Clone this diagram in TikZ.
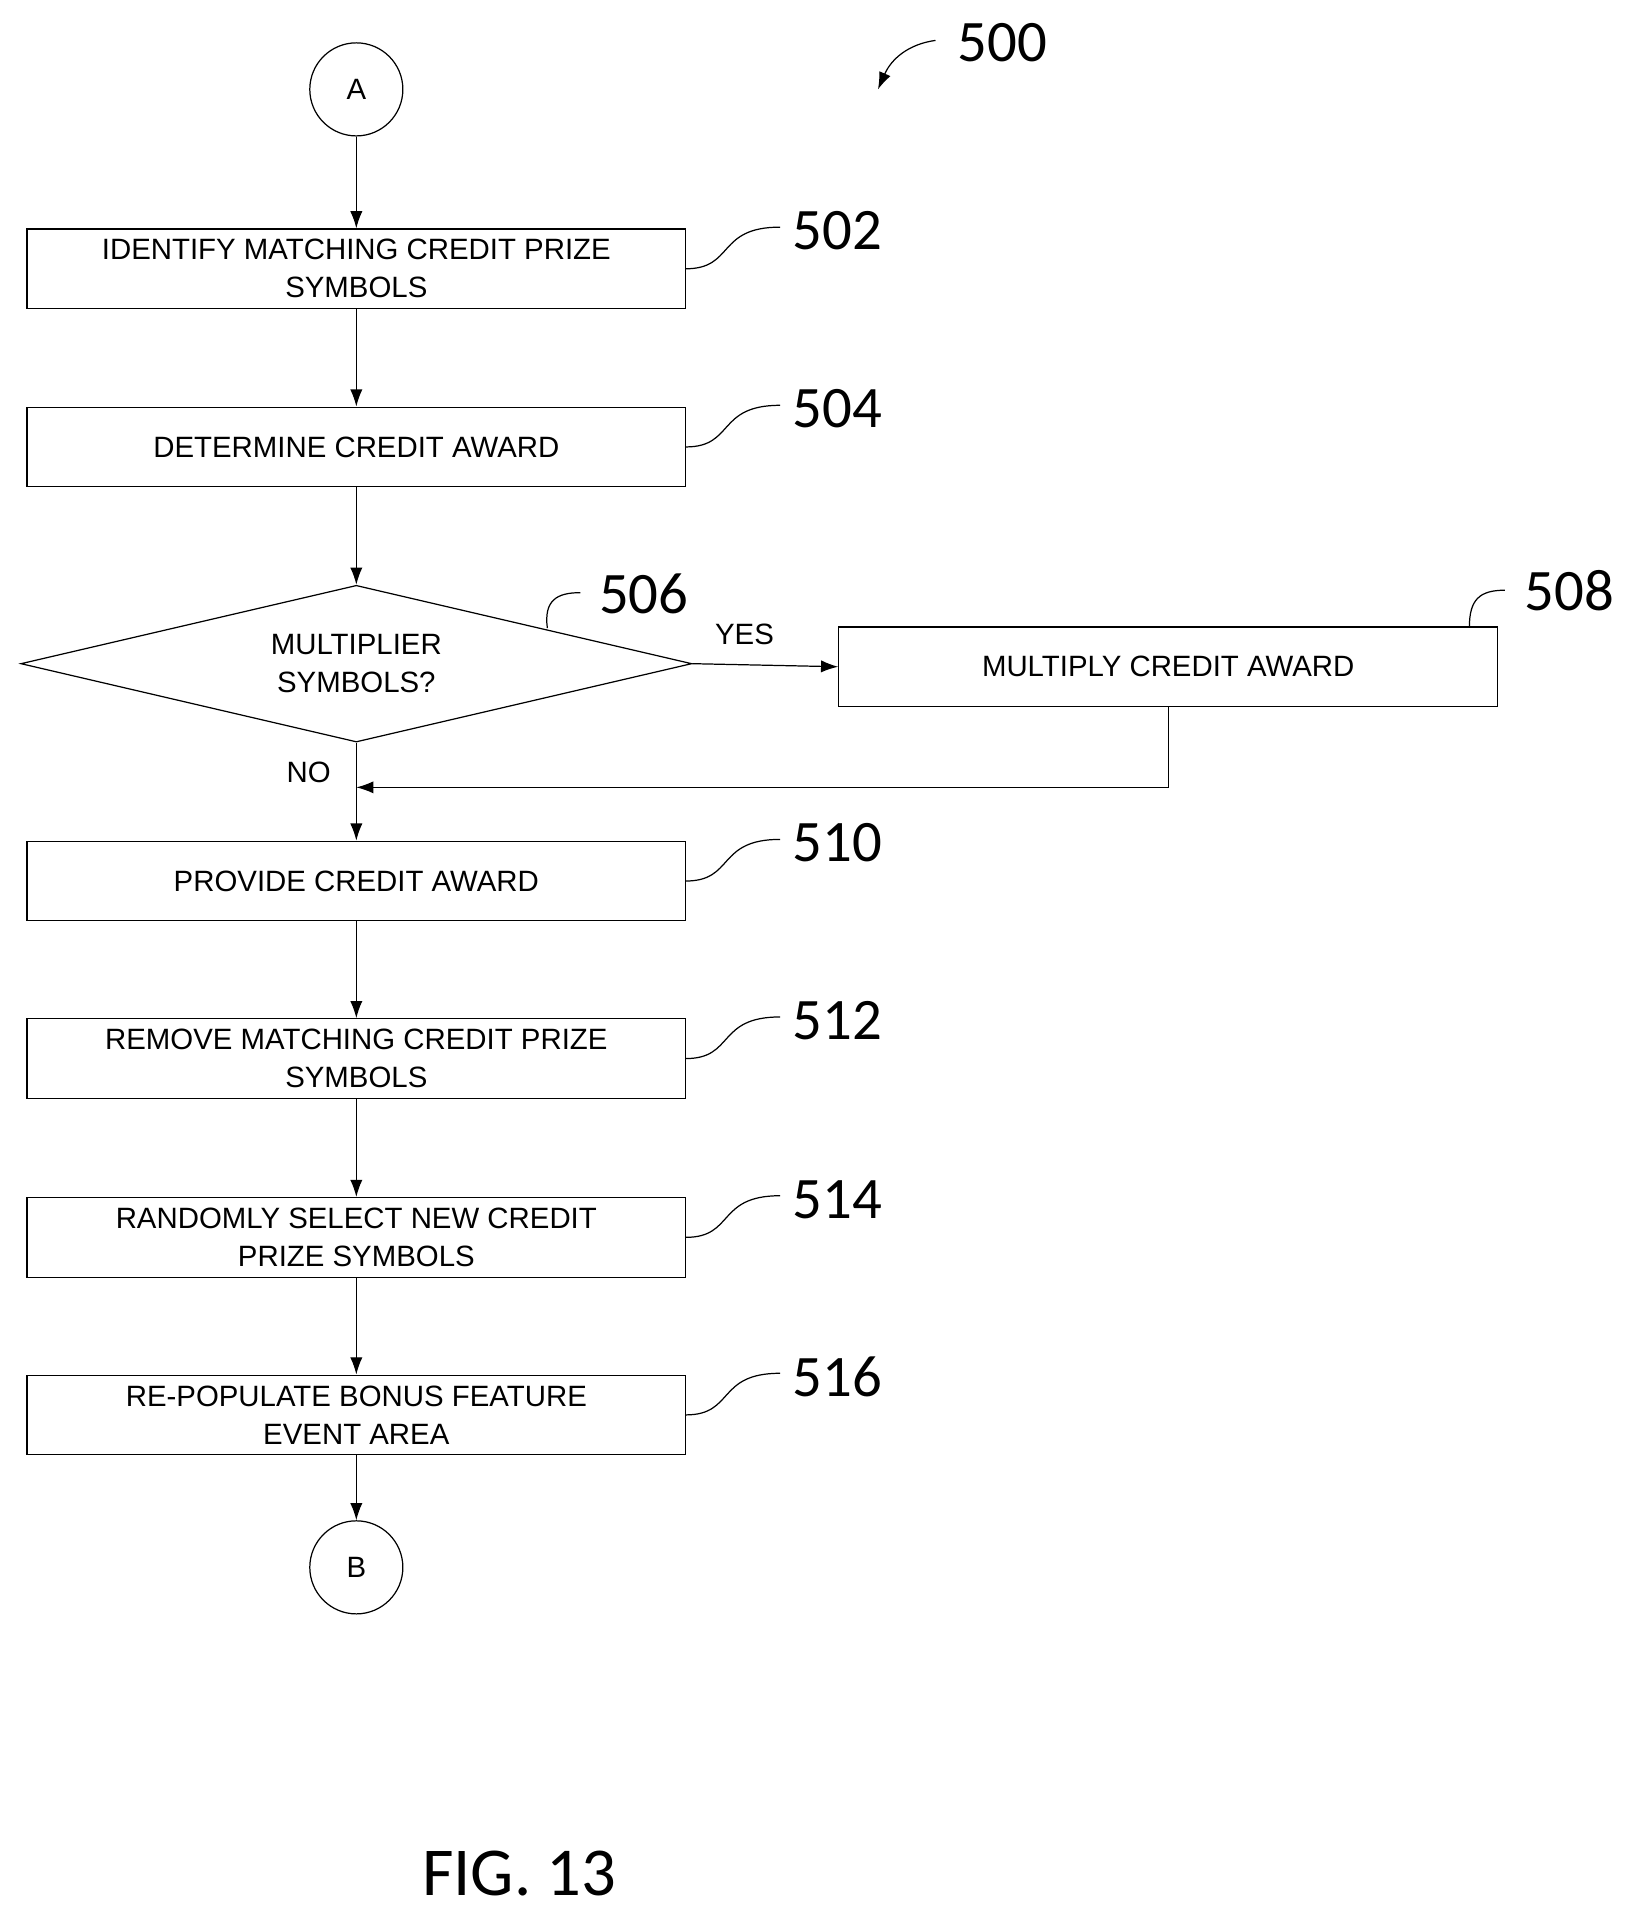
\documentclass[tikz,border=0pt]{standalone}
\usepackage{fontspec}
\setmainfont{Liberation Sans}
\newfontfamily\numfont{Carlito}
\usetikzlibrary{shapes.geometric,arrows.meta}
\begin{document}
\begin{tikzpicture}[x=1pt,y=-1pt,
  box/.style={draw,line width=1pt,minimum width=538pt,minimum height=65pt,inner sep=0pt,align=center,font=\fontsize{24}{31}\selectfont},
  circ/.style={draw,circle,line width=1pt,minimum size=76pt,inner sep=0pt,font=\fontsize{24}{28}\selectfont},
  num/.style={font=\numfont\fontsize{48}{50}\selectfont,anchor=west,inner sep=0pt},
  lbl/.style={font=\fontsize{24}{28}\selectfont,inner sep=0pt},
  arr/.style={line width=1pt,-{Latex[length=14pt,width=10pt]}},
  lead/.style={line width=1pt}]
\path[use as bounding box] (0,0) rectangle (1340,1568);
\node[circ] (A) at (291,73) {A};
\node[box] (b502) at (291,219.5) {IDENTIFY MATCHING CREDIT PRIZE\\SYMBOLS};
\node[box] (b504) at (291,365) {DETERMINE CREDIT AWARD};
\node[draw,line width=1pt,diamond,aspect=4.28,minimum width=548pt,minimum height=128pt,inner sep=0pt,align=center,font=\fontsize{24}{31}\selectfont] (d506) at (291,542) {MULTIPLIER\\SYMBOLS?};
\node[box] (b508) at (954,544.5) {MULTIPLY CREDIT AWARD};
\node[box] (b510) at (291,719.5) {PROVIDE CREDIT AWARD};
\node[box] (b512) at (291,864.5) {REMOVE MATCHING CREDIT PRIZE\\SYMBOLS};
\node[box] (b514) at (291,1010.5) {RANDOMLY SELECT NEW CREDIT\\PRIZE SYMBOLS};
\node[box] (b516) at (291,1155.5) {RE-POPULATE BONUS FEATURE\\EVENT AREA};
\node[circ] (B) at (291,1280) {B};
\draw[arr] (A) -- (b502);
\draw[arr] (b502) -- (b504);
\draw[arr] (b504) -- (d506);
\draw[arr] (d506.east) -- (b508.west);
\draw[arr] (d506.south) -- (b510.north);
\coordinate (fb) at (954,643);
\coordinate (fm) at (291,643);
\draw[arr] (b508.south) -- (fb) -- (fm);
\draw[arr] (b510) -- (b512);
\draw[arr] (b512) -- (b514);
\draw[arr] (b514) -- (b516);
\draw[arr] (b516) -- (B);
\node[lbl] (yes) at (608,518) {YES};
\node[lbl] (no) at (252,631) {NO};
% numbers and leaders
\foreach \n/\y in {502/219.5,504/365,510/719.5,512/864.5,514/1010.5,516/1155.5}{
  \node[num] (n\n) at (647,\y-31) {\n};
  \coordinate (s\n) at (560,\y);
  \draw[lead] (s\n) .. controls (600,\y) and (585,\y-34) .. (637,\y-34);
}
\node[num] (n506) at (489,485) {506};
\coordinate (s506) at (447,513);
\draw[lead] (s506) .. controls (444,490) and (455,484) .. (474,484);
\node[num] (n508) at (1245,482) {508};
\coordinate (s508) at (1200,512);
\draw[lead] (s508) .. controls (1200,490) and (1208,482) .. (1229,482);
\node[num] (n500) at (782,35) {500};
\coordinate (s500) at (764,33);
\coordinate (e500) at (717,73);
\draw[arr] (s500) .. controls (742,36) and (728,48) .. (e500);
\node[font=\numfont\fontsize{56}{60}\selectfont,inner sep=0pt] (fig) at (424,1530) {FIG. 13};
\end{tikzpicture}
\end{document}
